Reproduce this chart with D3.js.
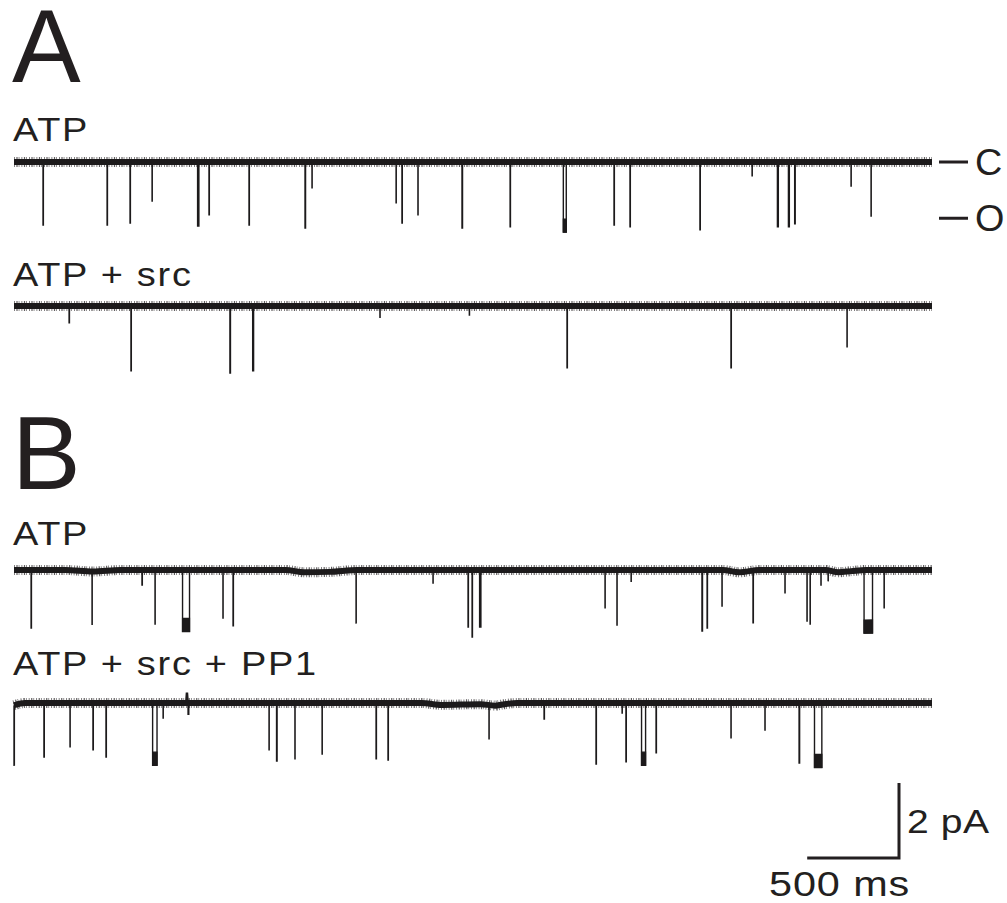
<!DOCTYPE html>
<html>
<head>
<meta charset="utf-8">
<script src="https://cdn.jsdelivr.net/npm/d3@7"></script>
<style>
  html, body { margin: 0; padding: 0; background: #fff; }
  svg { display: block; }
  text { font-family: "Liberation Sans", Arial, Helvetica, sans-serif; fill: #231f20; }
</style>
</head>
<body>
<svg id="chart" width="1007" height="903"></svg>
<script>
// ---------------- DATA ----------------
// Time axis of every trace (ms)
const timeDomain = [0, 5000];
// Single-channel openings: [start time (ms), amplitude (pA, inward = negative), duration (ms)]
const eventsA_ATP = [
  [158,-1.68,2],[507,-1.68,2],[632,-1.63,2],[752,-1.04,1],[1000,-1.71,7],[1062,-1.41,2],
  [1280,-1.68,2],[1585,-1.76,3],[1623,-0.69,1],[2081,-1.09,1],[2113,-1.63,2],[2200,-1.41,1],
  [2440,-1.76,3],[2702,-1.73,2],[2992,-1.87,16],[3268,-1.68,2],[3355,-1.73,2],
  [3736,-1.81,2],[4020,-0.37,1],[4158,-1.73,5],[4218,-1.73,5],[4252,-1.65,3],[4559,-0.64,1],[4668,-1.44,1]
];
const eventsA_SRC = [
  [300,-0.45,2],[637,-1.73,2],[1176,-1.79,3],[1300,-1.73,5],[1993,-0.3,1],[2480,-0.24,1],
  [3012,-1.65,2],[3905,-1.65,2],[4537,-1.09,1]
];
const eventsB_ATP = [
  [93,-1.55,2],[425,-1.41,1],[697,-0.4,2],[768,-1.44,1],[918,-1.64,38],
  [1138,-1.28,1],[1193,-1.49,2],[1863,-1.41,1],[2282,-0.35,1],[2473,-1.52,2],[2495,-1.79,2],
  [2536,-1.52,7],[3219,-1.01,1],[3284,-1.47,1],[3361,-0.3,1],[3747,-1.63,3],[3775,-1.55,2],
  [3856,-0.96,1],[4025,-1.39,2],[4199,-0.61,1],[4319,-1.36,1],[4336,-1.44,1],[4395,-0.4,1],
  [4434,-0.27,1],[4630,-1.68,46],[4739,-1.01,1]
];
const eventsB_PP1 = [
  [0,-1.6,2],[163,-1.44,2],[305,-1.17,1],[430,-1.25,2],[501,-1.44,2],[755,-1.66,24],
  [812,-0.4,1],[948,-0.3,4],[1389,-1.25,1],[1430,-1.55,3],[1530,-1.49,1],[1678,-1.36,1],[1972,-1.49,2],
  [2037,-1.52,2],[2587,-0.9,1],[2887,-0.43,2],[3170,-1.63,2],[3312,-0.27,1],[3333,-1.57,2],
  [3418,-1.66,22],[3497,-1.33,2],[3905,-0.93,1],[4090,-0.72,1],[4276,-1.6,3],[4360,-1.72,40]
];
// Brief upward artefacts: [time (ms), amplitude (pA), duration (ms)]
const spikesUpB_PP1 = [[938, 0.28, 8]];
// Slow baseline drift: time (ms) and offset (pA)
const driftA_ATP_t = [0, 5000], driftA_ATP_v = [0, 0];
const driftA_SRC_t = [0, 5000], driftA_SRC_v = [0, 0];
const driftB_ATP_t = [0, 280, 430, 580, 1480, 1580, 1720, 1870, 3860, 3950, 4060, 4420, 4490, 4560, 4640, 5000];
const driftB_ATP_v = [0, 0, -0.04, 0, 0, -0.06, -0.05, 0, 0, -0.06, 0, 0, -0.06, -0.03, 0, 0];
const driftB_PP1_t = [0, 60, 140, 2220, 2330, 2540, 2620, 2660, 2740, 5000];
const driftB_PP1_v = [-0.06, 0, 0, 0, -0.05, -0.03, -0.07, -0.04, 0, 0];
// Trace labels
const traceLabels = ["ATP", "ATP + src", "ATP", "ATP + src + PP1"];
const panelLabels = ["A", "B"];
const levelLabels = ["C", "O"];
const levelValues = [0, -1.5];          // closed / open level (pA)
const scaleBarTime = 500;               // ms
const scaleBarCurrent = 2;              // pA
const scaleBarTimeLabel = "500 ms";
const scaleBarCurrentLabel = "2 pA";

// ---------------- LAYOUT ----------------
const svg = d3.select("#chart");
const x = d3.scaleLinear().domain(timeDomain).range([14, 932]);
const pxPerPA = 37.5;
function yScale(base) { return d3.scaleLinear().domain([0, -1]).range([base, base + pxPerPA]); }

const traces = [
  { events: eventsA_ATP, up: [], dt: driftA_ATP_t, dv: driftA_ATP_v, base: 162, label: traceLabels[0], labelY: 141 },
  { events: eventsA_SRC, up: [], dt: driftA_SRC_t, dv: driftA_SRC_v, base: 306, label: traceLabels[1], labelY: 286 },
  { events: eventsB_ATP, up: [], dt: driftB_ATP_t, dv: driftB_ATP_v, base: 570, label: traceLabels[2], labelY: 545 },
  { events: eventsB_PP1, up: spikesUpB_PP1, dt: driftB_PP1_t, dv: driftB_PP1_v, base: 703, label: traceLabels[3], labelY: 675 }
];

const line = d3.line().x(d => x(d[0])).y(d => d[1]).curve(d3.curveLinear);
const smooth = d3.line().x(d => x(d[0])).y(d => d[1]).curve(d3.curveMonotoneX);
const INK = "#1c1a1b";

function label(txt, x0, y0, size, spacing, sx) {
  svg.append("text").attr("transform", `translate(${x0},${y0}) scale(${sx},1)`)
    .attr("font-size", size).attr("letter-spacing", spacing).text(txt);
}

traces.forEach(tr => {
  const y = yScale(tr.base);
  const drift = d3.scaleLinear().domain(tr.dt).range(tr.dv);
  const driftPts = tr.dt.map((t, i) => [t, y(tr.dv[i])]);
  const g = svg.append("g");
  // noise fringe
  g.append("path").attr("d", smooth(driftPts))
    .attr("fill", "none").attr("stroke", INK).attr("stroke-width", 10)
    .attr("stroke-dasharray", "0.8 1.6 1.2 1.1 0.7 2.1").attr("opacity", 0.7);
  // noise core
  g.append("path").attr("d", smooth(driftPts))
    .attr("fill", "none").attr("stroke", INK).attr("stroke-width", 6);
  // openings
  g.selectAll("path.ev").data(tr.events).join("path").attr("class", "ev")
    .attr("d", e => {
      const t0 = e[0], t1 = e[0] + e[2];
      return line([[t0, y(drift(t0))], [t0, y(drift(t0) + e[1])], [t1, y(drift(t1) + e[1])], [t1, y(drift(t1))]]);
    })
    .attr("fill", "none").attr("stroke", INK).attr("stroke-width", 1.4)
    .attr("stroke-linejoin", "miter");
  // dense open-level noise at the bottom of the longer bursts
  g.selectAll("path.burst").data(tr.events.filter(e => e[2] >= 15)).join("path").attr("class", "burst")
    .attr("d", e => {
      const t0 = e[0], t1 = e[0] + e[2];
      return line([[t0, y(drift(t0) + e[1] + 0.35)], [t1, y(drift(t1) + e[1] + 0.35)],
                   [t1, y(drift(t1) + e[1])], [t0, y(drift(t0) + e[1])]]) + "Z";
    })
    .attr("fill", INK).attr("stroke", INK).attr("stroke-width", 1.2);
  g.selectAll("path.up").data(tr.up).join("path").attr("class", "up")
    .attr("d", e => {
      const t0 = e[0], t1 = e[0] + e[2];
      return line([[t0, y(drift(t0))], [t0 + e[2] / 2, y(drift(t0) + e[1])], [t1, y(drift(t1))]]);
    })
    .attr("fill", INK).attr("stroke", INK).attr("stroke-width", 2.5);
  label(tr.label, 13, tr.labelY, 33, 1.5, 1.15);
});

// Panel letters
svg.append("text").attr("x", 12).attr("y", 82).attr("font-size", 103).text(panelLabels[0]);
svg.append("text").attr("x", 12).attr("y", 489).attr("font-size", 103).text(panelLabels[1]);

// Closed / open level markers (trace A ATP)
const yA = yScale(traces[0].base);
levelValues.forEach((v, i) => {
  svg.append("line").attr("x1", 939).attr("x2", 968).attr("y1", yA(v)).attr("y2", yA(v))
    .attr("stroke", "#231f20").attr("stroke-width", 3);
  label(levelLabels[i], 975, yA(v) + 13, 36, 0, 1.05);
});

// Scale bar
const sbX1 = 899, sbY = 858;
const sbX0 = sbX1 - (x(scaleBarTime) - x(0));
const sbY0 = sbY - scaleBarCurrent * pxPerPA;
svg.append("path")
  .attr("d", `M${sbX0},${sbY}H${sbX1}V${sbY0}`)
  .attr("fill", "none").attr("stroke", "#231f20").attr("stroke-width", 3);
label(scaleBarCurrentLabel, 907, 833, 34, 0.5, 1.15);
label(scaleBarTimeLabel, 769, 896, 36, 0.8, 1.15);
</script>
</body>
</html>
